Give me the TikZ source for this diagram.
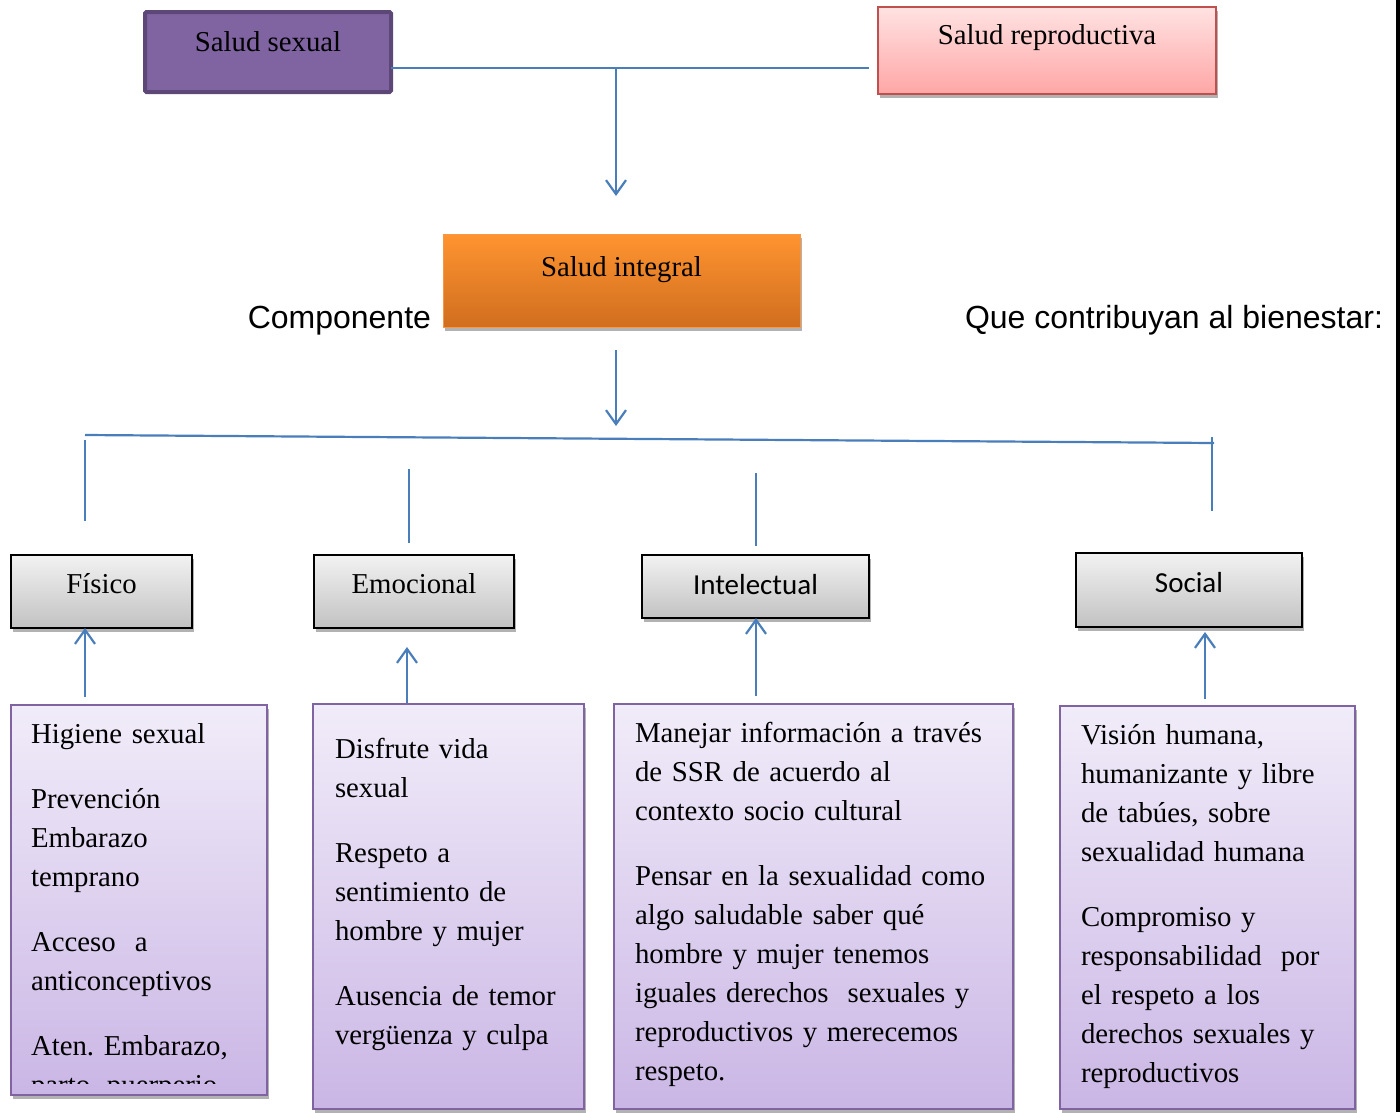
\documentclass[tikz,border=0pt]{standalone}
\usepackage{fontspec}
\setmainfont{Liberation Serif}
\newfontfamily\arialf{Liberation Sans}
\newfontfamily\calf{Carlito}
\usetikzlibrary{arrows.meta,shadows}
\frenchspacing
\definecolor{lnblue}{HTML}{4A7EBB}
\definecolor{purfill}{HTML}{8064A2}
\definecolor{purdraw}{HTML}{5C4776}
\definecolor{redraw}{HTML}{C0504D}
\definecolor{redtop}{HTML}{FFE2E2}
\definecolor{redbot}{HTML}{FFA6A6}
\definecolor{orgtop}{HTML}{FF9430}
\definecolor{orgbot}{HTML}{D06E1F}
\definecolor{orgdraw}{HTML}{F79646}
\definecolor{gtop}{HTML}{F2F2F2}
\definecolor{gbot}{HTML}{C2C2C2}
\definecolor{vtop}{HTML}{F1ECF9}
\definecolor{vbot}{HTML}{CAB6E5}
\definecolor{vdraw}{HTML}{8064A2}
\begin{document}
\begin{tikzpicture}[x=1pt,y=-1pt,
  font=\fontsize{28.8}{39}\selectfont,
  every node/.style={inner sep=0pt,outer sep=0pt},
  shad/.style={drop shadow={shadow xshift=2pt,shadow yshift=-4pt,opacity=0.3,fill=black}},
  ssbox/.style={fill=purfill,draw=purdraw,line width=4pt,rounded corners=1.5pt},
  srbox/.style={shad,top color=redtop,bottom color=redbot,draw=redraw,line width=2pt},
  sibox/.style={shad,top color=orgtop,bottom color=orgbot,draw=orgdraw,line width=1pt},
  lvbox/.style={shad,top color=gtop,bottom color=gbot,draw=black,line width=2pt},
  btbox/.style={shad,top color=vtop,bottom color=vbot,draw=vdraw,line width=2pt},
  btext/.style={text width=420pt,align=left,anchor=base west},
  ln/.style={draw=lnblue,line width=2.2pt},
  arr/.style={ln,-{Straight Barb[length=14pt,width=20pt]}},
  sidetxt/.style={font=\arialf\fontsize{32}{38}\selectfont}
]
\useasboundingbox (0,0) rectangle (1400,1112);

% top boxes
\node[ssbox,minimum width=246pt,text height=39pt,text depth=41pt,anchor=north west] (ss) at (145,12) {Salud sexual};
\node[srbox,minimum width=338pt,text height=37pt,text depth=50pt,anchor=north west] (sr) at (878,7) {Salud reproductiva};
\node[sibox,minimum width=357pt,text height=42pt,text depth=51pt,anchor=north west] (si) at (443,234) {Salud integral};

\node[sidetxt,anchor=base east] (comp) at (431,328) {Componente};
\node[sidetxt,anchor=base west] (contr) at (965,328) {Que contribuyan al bienestar:};

% connectors top
\coordinate (j1) at (616,68);
\coordinate (a1) at (616,196);
\draw[ln] (ss.east |- j1) -- ([xshift=-9pt]sr.west |- j1);
\draw[arr] (j1) -- (a1);
\coordinate (a2s) at (616,350);
\coordinate (a2e) at (616,426);
\draw[arr] (a2s) -- (a2e);
\coordinate (hl) at (85,435);
\coordinate (hr) at (1214,443);
\draw[ln] (hl) -- (hr);
\coordinate (s1t) at (85,440); \coordinate (s1b) at (85,521);
\coordinate (s2t) at (409,469); \coordinate (s2b) at (409,543);
\coordinate (s3t) at (756,473); \coordinate (s3b) at (756,546);
\coordinate (s4t) at (1212,437); \coordinate (s4b) at (1212,511);
\draw[ln] (s1t) -- (s1b);
\draw[ln] (s2t) -- (s2b);
\draw[ln] (s3t) -- (s3b);
\draw[ln] (s4t) -- (s4b);

% level boxes
\node[lvbox,minimum width=181pt,text height=38pt,text depth=35pt,anchor=north west] (fis) at (11,555) {Físico};
\node[lvbox,minimum width=200pt,text height=38pt,text depth=35pt,anchor=north west] (emo) at (314,555) {Emocional};
\node[lvbox,minimum width=227pt,text height=39pt,text depth=24pt,anchor=north west,font=\calf\fontsize{29}{35}\selectfont] (int) at (642,555) {Intelectual};
\node[lvbox,minimum width=226pt,text height=39pt,text depth=35pt,anchor=north west,font=\calf\fontsize{29}{35}\selectfont] (soc) at (1076,553) {Social};

% bottom boxes
\node[btbox,minimum width=256pt,minimum height=390pt,anchor=north west] (b1) at (11,705) {};
\node[btbox,minimum width=271pt,minimum height=405pt,anchor=north west] (b2) at (313,704) {};
\node[btbox,minimum width=399pt,minimum height=405pt,anchor=north west] (b3) at (614,704) {};
\node[btbox,minimum width=295pt,minimum height=403pt,anchor=north west] (b4) at (1060,706) {};

\begin{scope}
\clip (12,706) rectangle (266,1083);
\node[btext] (t1) at (31,743) {Higiene sexual\\[26pt]Prevención\\Embarazo\\temprano\\[26pt]Acceso\ \ a\\anticonceptivos\\[26pt]Aten. Embarazo,\\parto, puerperio};
\end{scope}
\node[btext] (t2) at (335,758) {Disfrute vida\\sexual\\[26pt]Respeto a\\sentimiento de\\hombre y mujer\\[26pt]Ausencia de temor\\vergüenza y culpa};
\node[btext] (t3) at (635,742) {Manejar información a través\\de SSR de acuerdo al\\contexto socio cultural\\[26pt]Pensar en la sexualidad como\\algo saludable saber qué\\hombre y mujer tenemos\\iguales derechos\ \ sexuales y\\reproductivos y merecemos\\respeto.};
\node[btext] (t4) at (1081,744) {Visión humana,\\humanizante y libre\\de tabúes, sobre\\sexualidad humana\\[26pt]Compromiso y\\responsabilidad\ \ por\\el respeto a los\\derechos sexuales y\\reproductivos};

% up arrows
\coordinate (u1s) at (85,697); \coordinate (u1e) at (85,628);
\coordinate (u2s) at (407,703); \coordinate (u2e) at (407,647);
\coordinate (u3s) at (756,696); \coordinate (u3e) at (756,618);
\coordinate (u4s) at (1205,699); \coordinate (u4e) at (1205,632);
\draw[arr] (u1s) -- (u1e);
\draw[arr] (u2s) -- (u2e);
\draw[arr] (u3s) -- (u3e);
\draw[arr] (u4s) -- (u4e);

% right edge line
\coordinate (edT) at (1398,0);
\coordinate (edB) at (1398,1112);
\draw[line width=3.5pt] (edT) -- (edB);
\end{tikzpicture}
\end{document}
